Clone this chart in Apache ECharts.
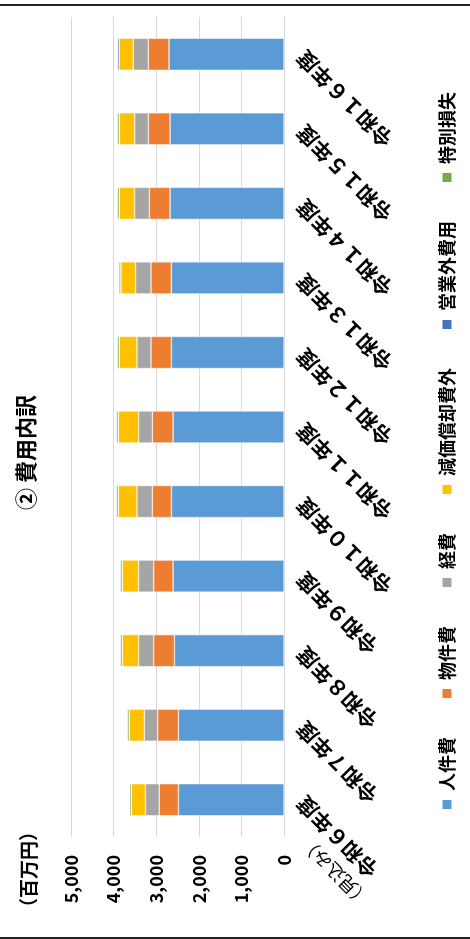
<!DOCTYPE html>
<html>
<head>
<meta charset="utf-8">
<script src="https://cdn.jsdelivr.net/npm/echarts@6/dist/echarts.min.js"></script>
<style>
html,body{margin:0;padding:0;width:470px;height:939px;overflow:hidden;background:#fff;}
#chart{position:absolute;left:0;top:0;width:939px;height:470px;transform-origin:0 0;transform:translateY(939px) rotate(-90deg);}
</style>
</head>
<body>
<div id="chart"></div>
<script>
const categories = ['令和６年度','令和７年度','令和８年度','令和９年度','令和１０年度','令和１１年度','令和１２年度','令和１３年度','令和１４年度','令和１５年度','令和１６年度'];
const seriesNames = ['人件費','物件費','経費','減価償却費外','営業外費用','特別損失'];
const jinkenhi = [2478, 2478, 2572, 2604, 2643, 2604, 2643, 2643, 2675, 2675, 2699];
const bukkenhi = [452, 487, 487, 455, 447, 485, 480, 480, 485, 508, 485];
const keihi = [322, 313, 353, 353, 362, 322, 329, 360, 346, 322, 353];
const genka = [329, 353, 384, 384, 438, 478, 414, 346, 360, 360, 329];
const eigyogai = [3, 3, 3, 3, 3, 3, 3, 5, 3, 3, 40];
const tokubetsu = [35, 40, 40, 40, 40, 40, 40, 38, 40, 40, 0];
const yTicks = [0, 1000, 2000, 3000, 4000, 5000];
const colors = ['#5B9BD5','#ED7D31','#A5A5A5','#FFC000','#4472C4','#70AD47'];
const values = [jinkenhi, bukkenhi, keihi, genka, eigyogai, tokubetsu];

const FONT = '"Noto Sans CJK JP", "Noto Sans", sans-serif';
const chart = echarts.init(document.getElementById('chart'));
chart.setOption({
  animation: false,
  color: colors,
  title: {
    text: '② 費用内訳',
    left: 424, top: 10,
    textStyle: {fontFamily: FONT, fontSize: 22, fontWeight: 'bold', color: '#000'}
  },
  legend: {
    data: seriesNames,
    left: 123, top: 432,
    orient: 'horizontal',
    icon: 'rect',
    itemWidth: 11, itemHeight: 11,
    itemGap: 37,
    textStyle: {fontFamily: FONT, fontSize: 18, fontWeight: 'bold', color: '#000', padding: [0,0,0,3], lineHeight: 20}
  },
  grid: {left: 102, right: 17, top: 71, bottom: 186, containLabel: false, outerBoundsMode: 'none'},
  xAxis: {
    type: 'category',
    data: categories,
    axisTick: {show: false},
    axisLine: {lineStyle: {color: '#D9D9D9', width: 1}},
    axisLabel: {
      interval: 0, rotate: 45, margin: 16,
      fontFamily: FONT, fontSize: 21, fontWeight: 'bold', color: '#000'
    }
  },
  yAxis: {
    type: 'value',
    min: yTicks[0], max: yTicks[yTicks.length-1], interval: yTicks[1]-yTicks[0],
    axisLine: {show: false}, axisTick: {show: false},
    splitLine: {lineStyle: {color: '#D9D9D9', width: 1}},
    axisLabel: {
      margin: 18,
      fontFamily: FONT, fontSize: 18, fontWeight: 'bold', color: '#000',
      formatter: v => v.toLocaleString('en-US')
    }
  },
  graphic: [
    {type: 'text', x: 22, y: 29, style: {text: '（百万円）', font: 'bold 19px ' + FONT, fill: '#000', align: 'left', verticalAlign: 'middle'}},
    {type: 'text', x: 67, y: 335, rotation: Math.PI/4, style: {text: '（見込み）', font: '18px ' + FONT, fill: '#000', align: 'center', verticalAlign: 'middle'}},
    {type: 'rect', shape: {x: 933, y: 0, width: 2, height: 470}, style: {fill: '#222'}},
    {type: 'rect', shape: {x: 0, y: 0, width: 2, height: 470}, style: {fill: '#222'}}
  ],
  series: seriesNames.map((name, i) => ({
    name: name,
    type: 'bar',
    stack: 'total',
    barWidth: 32,
    data: values[i],
    itemStyle: {color: colors[i], borderColor: '#fff', borderWidth: 0.5}
  }))
});
</script>
</body>
</html>
